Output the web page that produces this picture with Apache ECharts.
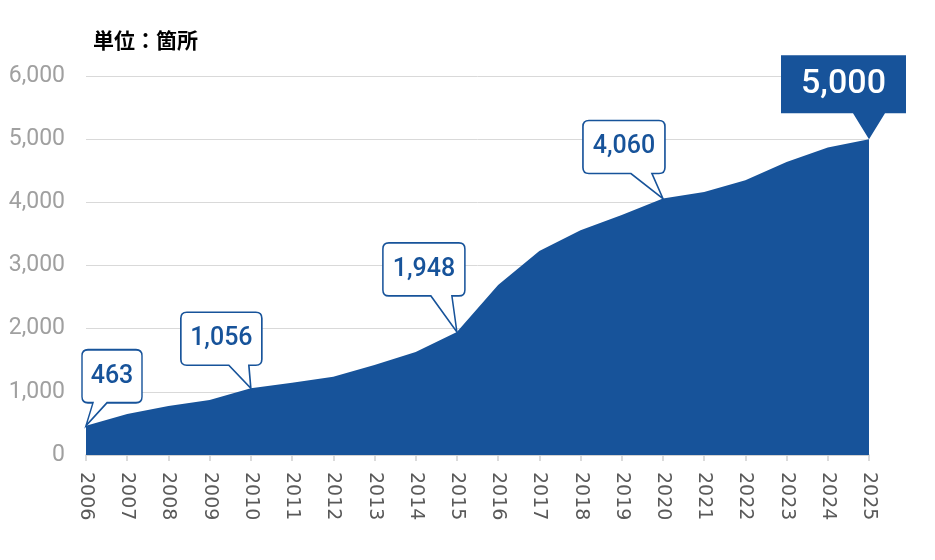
<!DOCTYPE html>
<html><head><meta charset="utf-8">
<script src="https://cdn.jsdelivr.net/npm/echarts@6/dist/echarts.min.js"></script>
<style>html,body{margin:0;padding:0;background:#fff}#c{width:935px;height:560px}</style>
</head><body><div id="c"></div>
<script>
const years = ['2006','2007','2008','2009','2010','2011','2012','2013','2014','2015','2016','2017','2018','2019','2020','2021','2022','2023','2024','2025'];
const values = [463, 650, 775, 870, 1056, 1145, 1240, 1425, 1630, 1948, 2690, 3230, 3560, 3800, 4060, 4165, 4350, 4640, 4870, 5000];
const yTicks = [0, 1000, 2000, 3000, 4000, 5000, 6000];
const calloutYears = ['2006', '2010', '2015', '2020', '2025'];
const unitLabel = '単位：箇所';

const BLUE = '#17539a';
// shape per callout: W,H box size, a,b tail base x, tx,ty tip, r radius (local px)
const shapes = {
  '2006': {W: 60, H: 53, a: 11, b: 25, tx: 4, ty: 76, r: 6},
  '2010': {W: 81, H: 53, a: 48, b: 68, tx: 70, ty: 76, r: 6},
  '2015': {W: 82, H: 53, a: 48, b: 69, tx: 74, ty: 89, r: 6},
  '2020': {W: 82, H: 53, a: 48, b: 69, tx: 80, ty: 78, r: 6},
  '2025': {W: 125, H: 58, a: 72, b: 104, tx: 88, ty: 84, r: 0, fill: true}
};
function pathFor(s) {
  const {W, H, a, b, tx, ty, r} = s;
  if (r === 0) {
    return `path://M0 0 L${W} 0 L${W} ${H} L${b} ${H} L${tx} ${ty} L${a} ${H} L0 ${H} Z`;
  }
  return `path://M${r} 0 L${W - r} 0 Q${W} 0 ${W} ${r} L${W} ${H - r} Q${W} ${H} ${W - r} ${H} L${b} ${H} L${tx} ${ty} L${a} ${H} L${r} ${H} Q0 ${H} 0 ${H - r} L0 ${r} Q0 0 ${r} 0 Z`;
}
const markData = calloutYears.map(y => {
  const s = shapes[y];
  const v = values[years.indexOf(y)];
  return {
    coord: [y, v],
    value: v,
    symbol: pathFor(s),
    symbolSize: [s.W, s.ty],
    symbolOffset: [s.W / 2 - s.tx, -s.ty / 2],
    itemStyle: s.fill ? {color: BLUE, borderWidth: 0} : {color: '#fff', borderColor: BLUE, borderWidth: 1.6},
    label: {
      show: true,
      position: 'inside',
      offset: [0, (s.H - s.ty) / 2],
      formatter: v.toLocaleString('en-US'),
      color: s.fill ? '#fff' : BLUE,
      fontSize: s.fill ? 34 : 25,
      fontWeight: 500,
      fontFamily: 'Roboto'
    }
  };
});

const chart = echarts.init(document.getElementById('c'), null, {renderer: 'canvas'});
chart.setOption({
  animation: false,
  backgroundColor: '#fff',
  graphic: [{type: 'text', left: 93, top: 30, style: {text: unitLabel, font: 'bold 21px "Noto Sans CJK JP"', fill: '#000'}}],
  grid: {left: 86, right: 66, top: 76, bottom: 105, containLabel: false},
  xAxis: {
    type: 'category', data: years, boundaryGap: false,
    axisLine: {lineStyle: {color: '#d0d0d0', width: 1.5}},
    axisTick: {show: true, length: 6, lineStyle: {color: '#d0d0d0', width: 1.5}},
    axisLabel: {rotate: -90, color: '#595959', fontSize: 19, fontFamily: 'DejaVu Sans', margin: 17}
  },
  yAxis: {
    type: 'value', min: 0, max: 6000, interval: 1000,
    axisLine: {show: false}, axisTick: {show: false},
    splitLine: {lineStyle: {color: '#d9d9d9', width: 1}},
    axisLabel: {color: '#a0a0a0', fontSize: 23, fontFamily: 'Roboto', margin: 21,
      formatter: v => yTicks.includes(v) ? v.toLocaleString('en-US') : ''}
  },
  series: [{
    type: 'line', data: values, symbol: 'none', smooth: false,
    lineStyle: {width: 0}, areaStyle: {color: BLUE, opacity: 1},
    markPoint: {data: markData, z: 10}
  }]
});
</script></body></html>
